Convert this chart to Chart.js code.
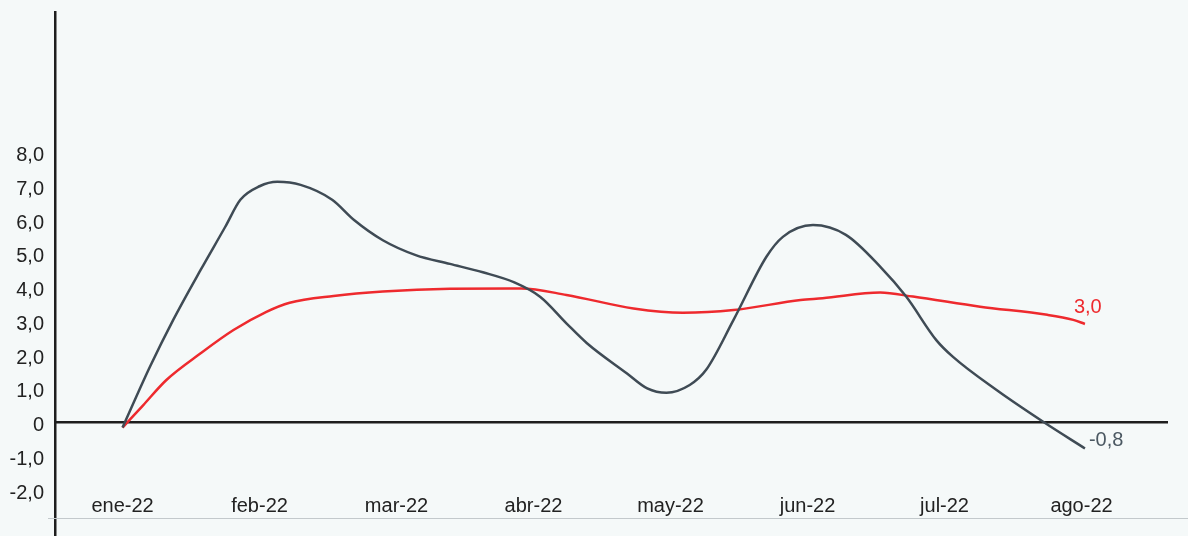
<!DOCTYPE html>
<html>
<head>
<meta charset="utf-8">
<style>
  html, body { margin: 0; padding: 0; background: #f5f9f9; }
  canvas { display: block; }
</style>
<script src="https://cdn.jsdelivr.net/npm/chart.js@4.4.1/dist/chart.umd.min.js"></script>
</head>
<body>
<canvas id="chart" width="1188" height="536"></canvas>
<script>
/* ── Data ──────────────────────────────────────────────────── */
const MONTHS = ['ene-22', 'feb-22', 'mar-22', 'abr-22', 'may-22', 'jun-22', 'jul-22', 'ago-22'];
const MONTH_POS = [0, 1, 2, 3, 4, 5, 6, 7];

const Y_TICKS = [-2, -1, 0, 1, 2, 3, 4, 5, 6, 7, 8];
const Y_TICK_LABELS = ['-2,0', '-1,0', '0', '1,0', '2,0', '3,0', '4,0', '5,0', '6,0', '7,0', '8,0'];

// dark series (position in months, value)
const DARK_X = [0.00, 0.20, 0.37, 0.57, 0.75, 0.86, 1.00, 1.13, 1.30, 1.53, 1.69, 1.90, 2.14, 2.39,
                2.63, 2.86, 3.05, 3.24, 3.39, 3.68, 3.83, 3.97, 4.14, 4.26, 4.46, 4.70, 4.82, 5.04,
                5.28, 5.53, 5.72, 5.94, 6.06, 6.38, 6.72, 7.025];
const DARK_Y = [-0.15, 1.65, 3.04, 4.52, 5.80, 6.60, 7.00, 7.13, 7.04, 6.60, 6.00, 5.40, 4.96, 4.70,
                4.45, 4.15, 3.72, 2.94, 2.35, 1.46, 1.01, 0.88, 1.11, 1.56, 3.04, 4.91, 5.50, 5.85,
                5.56, 4.62, 3.73, 2.44, 1.95, 0.96, 0.02, -0.77];

// red series
const RED_X = [0.00, 0.15, 0.32, 0.57, 0.81, 1.05, 1.22, 1.54, 1.90, 2.39, 2.91, 3.24, 3.73, 4.09,
               4.46, 4.95, 5.11, 5.53, 5.77, 6.26, 6.75, 6.94, 7.025];
const RED_Y = [-0.15, 0.51, 1.26, 2.05, 2.74, 3.28, 3.55, 3.75, 3.88, 3.96, 3.97, 3.78, 3.38, 3.25,
               3.33, 3.63, 3.68, 3.85, 3.73, 3.43, 3.19, 3.04, 2.92];

const END_LABELS = ['-0,8', '3,0'];

/* ── Style ─────────────────────────────────────────────────── */
const COLORS = {
    bg: '#f5f9f9',
    dark: '#3f4b55',
    darkLabel: '#4b5862',
    red: '#ee2a2e',
    axis: '#1e1e1e',
    tick: '#222222',
    baseLine: '#c3c9cc',
};
const FONT = 'Liberation Sans, Arial, Helvetica, sans-serif';

const toPoints = (xs, ys) => xs.map((x, i) => ({ x, y: ys[i] }));

/* background, light base line and end-of-line labels */
const decorPlugin = {
    id: 'decor',
    beforeDraw(chart) {
        const { ctx, width, height } = chart;
        ctx.save();
        ctx.fillStyle = COLORS.bg;
        ctx.fillRect(0, 0, width, height);
        ctx.restore();
    },
    afterDatasetsDraw(chart) {
        const { ctx, scales: { y } } = chart;
        ctx.save();
        // thin grey line under the month labels
        const by = Math.round(y.getPixelForValue(-2.83)) + 0.5;
        ctx.strokeStyle = COLORS.baseLine;
        ctx.lineWidth = 1;
        ctx.beginPath();
        ctx.moveTo(48, by);
        ctx.lineTo(chart.width, by);
        ctx.stroke();

        ctx.font = '20px ' + FONT;
        ctx.textBaseline = 'middle';
        ctx.textAlign = 'left';
        const offsets = [{ dx: 4, dy: -8 }, { dx: -11, dy: -16 }];
        chart.data.datasets.forEach((ds, i) => {
            const meta = chart.getDatasetMeta(i);
            const last = meta.data[meta.data.length - 1];
            ctx.fillStyle = i === 0 ? COLORS.darkLabel : COLORS.red;
            ctx.fillText(END_LABELS[i], last.x + offsets[i].dx, last.y + offsets[i].dy);
        });
        ctx.restore();
    },
};

new Chart(document.getElementById('chart'), {
    type: 'line',
    data: {
        datasets: [
            {
                label: 'dark',
                data: toPoints(DARK_X, DARK_Y),
                borderColor: COLORS.dark,
                borderWidth: 2.5,
                pointRadius: 0,
                cubicInterpolationMode: 'monotone',
                fill: false,
            },
            {
                label: 'red',
                data: toPoints(RED_X, RED_Y),
                borderColor: COLORS.red,
                borderWidth: 2.5,
                pointRadius: 0,
                cubicInterpolationMode: 'monotone',
                fill: false,
            },
        ],
    },
    options: {
        responsive: false,
        animation: false,
        devicePixelRatio: 1,
        layout: { padding: { top: 12, right: 21, left: 0, bottom: 0 } },
        plugins: {
            legend: { display: false },
            tooltip: { enabled: false },
        },
        scales: {
            x: {
                type: 'linear',
                position: { y: 0 },
                min: -0.493,
                max: 7.624,
                afterBuildTicks: (s) => { s.ticks = MONTH_POS.map(v => ({ value: v })); },
                afterFit: (s) => { s.paddingLeft = 0; s.paddingRight = 0; },
                grid: { display: false, drawTicks: false },
                border: { display: true, color: COLORS.axis, width: 2.5 },
                ticks: {
                    padding: 72,
                    color: COLORS.tick,
                    font: { size: 20, family: FONT },
                    maxRotation: 0,
                    autoSkip: false,
                    callback: (v) => MONTHS[MONTH_POS.indexOf(v)],
                },
            },
            y: {
                type: 'linear',
                min: -3.363,
                max: 12.163,
                afterBuildTicks: (s) => { s.ticks = Y_TICKS.map(v => ({ value: v })); },
                afterFit: (s) => { s.width = 55; s.paddingTop = 0; s.paddingBottom = 0; },
                grid: { display: false, drawTicks: false },
                border: { display: true, color: COLORS.axis, width: 2.5 },
                ticks: {
                    padding: 11,
                    labelOffset: 3,
                    color: COLORS.tick,
                    font: { size: 20, family: FONT },
                    autoSkip: false,
                    callback: (v) => Y_TICK_LABELS[Y_TICKS.indexOf(v)],
                },
            },
        },
    },
    plugins: [decorPlugin],
});
</script>
</body>
</html>
